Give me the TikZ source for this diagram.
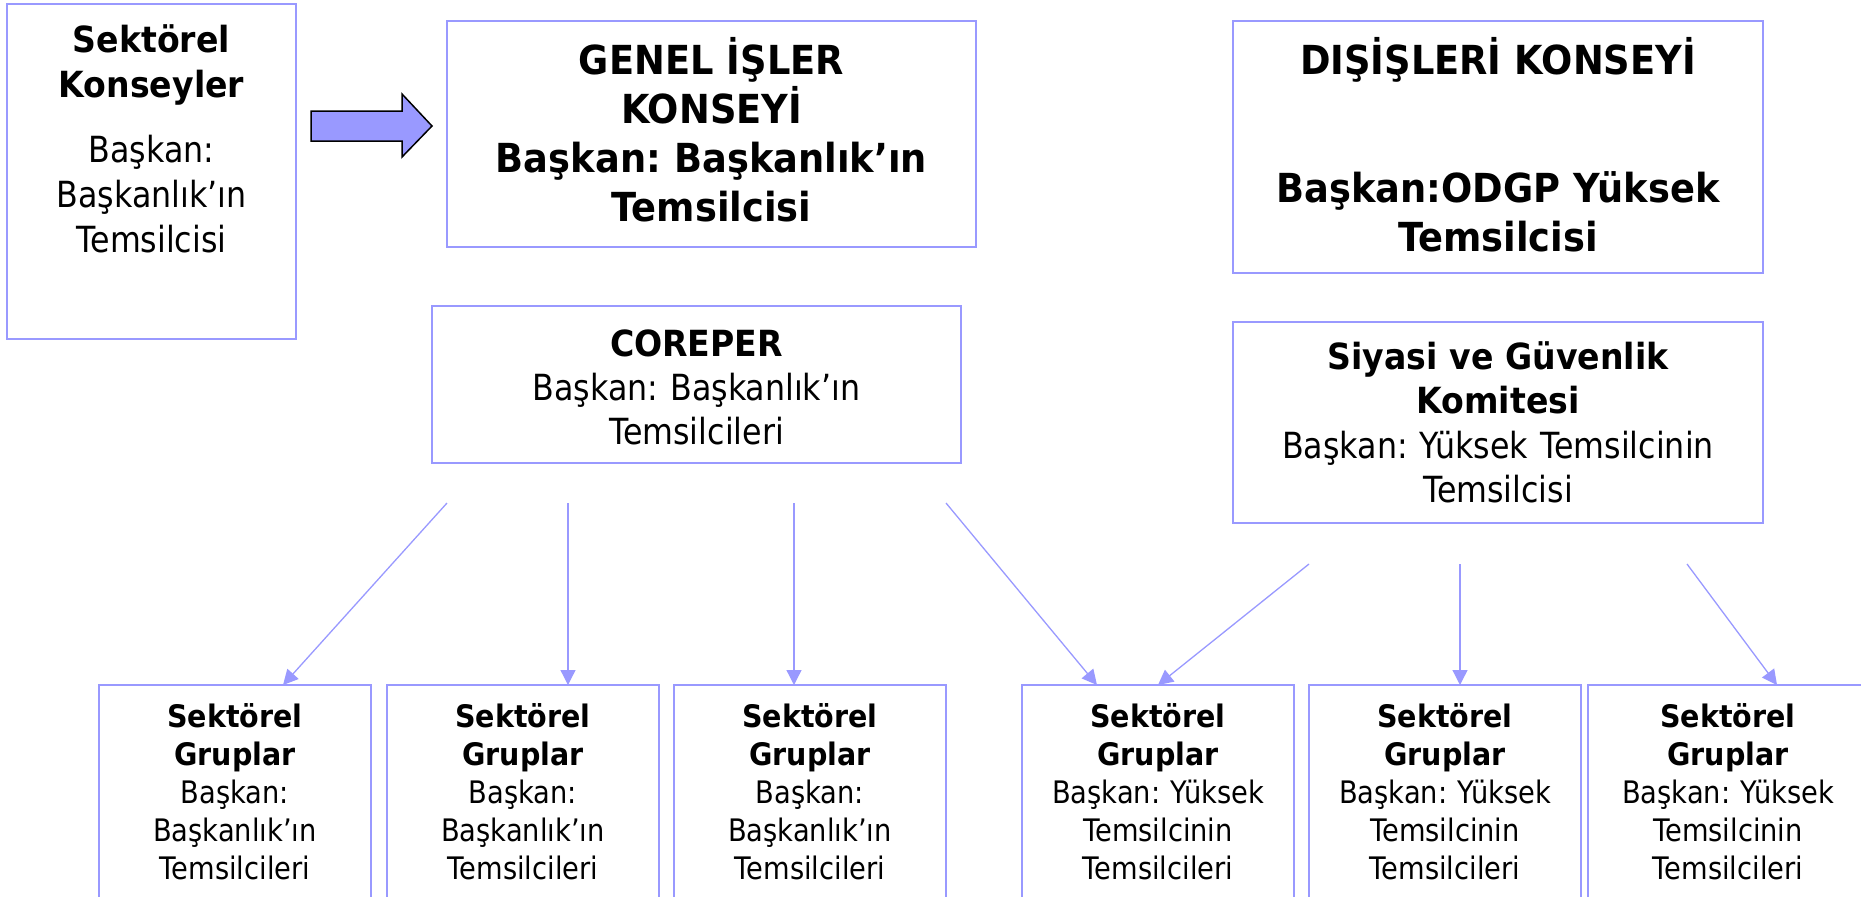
\documentclass[tikz,border=0pt]{standalone}
\usepackage{fontspec}
\setmainfont{DejaVu Sans}[FakeStretch=0.88]
\newfontfamily\headfont{DejaVu Sans}[FakeStretch=0.92]
\usetikzlibrary{arrows.meta,positioning}
\definecolor{euline}{RGB}{153,153,255}
\frenchspacing

\newcommand{\headtext}[1]{{\headfont\bfseries #1}}

\begin{document}
\begin{tikzpicture}[
    x=1pt, y=-1pt,
    council/.style={rectangle, draw=euline, line width=2.5pt, fill=white, align=center, inner sep=0pt, outer sep=0pt, text width=#1},
    group/.style={council=272pt, text height=42pt, text depth=188pt, font=\fontsize{31}{38}\selectfont},
    link/.style={euline, line width=1.3pt, -{Triangle[length=15pt,width=15pt]}}
]
\useasboundingbox (0,0) rectangle (1861,897);
\clip (0,0) rectangle (1861,897);

\node[council=289pt, anchor=north west, text height=48pt, text depth=287pt, font=\fontsize{36}{45}\selectfont] (sk) at (7,4)
  {\headtext{Sektörel\\Konseyler}\\[20pt]Başkan:\\Başkanlık’ın\\Temsilcisi};
\node[council=529pt, below right=17pt and 151pt of sk.north east, text height=53pt, text depth=173pt, font=\fontsize{40}{49.3}\selectfont] (genel)
  {\headtext{GENEL İŞLER\\KONSEYİ\\Başkan: Başkanlık’ın\\Temsilcisi}};
\node[council=530pt, right=257pt of genel.north east, anchor=north west, text height=53pt, text depth=199pt, font=\fontsize{40}{49}\selectfont] (dis)
  {\headtext{DIŞİŞLERİ KONSEYİ\\[79pt]Başkan:ODGP Yüksek\\Temsilcisi}};
\node[council=529pt, below=59pt of genel.south west, anchor=north west, xshift=-15pt, text height=50pt, text depth=107pt, font=\fontsize{36}{44}\selectfont] (coreper)
  {\headtext{COREPER}\\Başkan: Başkanlık’ın\\Temsilcileri};
\node[council=530pt, below=49pt of dis.south west, anchor=north west, text height=47pt, text depth=154pt, font=\fontsize{36}{44.5}\selectfont] (siyasi)
  {\headtext{Siyasi ve Güvenlik\\Komitesi}\\Başkan: Yüksek Temsilcinin\\Temsilcisi};

% block arrow
\filldraw[fill=euline, draw=black, line width=1.5pt] (311,111) -- (402,111) -- (402,94) -- (432,126) -- (402,157) -- (402,141) -- (311,141) -- cycle;

\node[group, anchor=north west] (g1) at (99,685) {\headtext{Sektörel\\Gruplar}\\Başkan:\\Başkanlık’ın\\Temsilcileri};
\node[group, right=16pt of g1] (g2) {\headtext{Sektörel\\Gruplar}\\Başkan:\\Başkanlık’ın\\Temsilcileri};
\node[group, right=15pt of g2] (g3) {\headtext{Sektörel\\Gruplar}\\Başkan:\\Başkanlık’ın\\Temsilcileri};
\node[group, right=76pt of g3] (g4) {\headtext{Sektörel\\Gruplar}\\Başkan: Yüksek\\Temsilcinin\\Temsilcileri};
\node[group, right=15pt of g4] (g5) {\headtext{Sektörel\\Gruplar}\\Başkan: Yüksek\\Temsilcinin\\Temsilcileri};
\node[group, right=7pt of g5, text width=280pt] (g6) {\headtext{Sektörel\\Gruplar}\\Başkan: Yüksek\\Temsilcinin\\Temsilcileri};

\coordinate (s1) at ([xshift=15pt,yshift=-40pt]coreper.south west);
\coordinate (s2) at ([xshift=136pt,yshift=-40pt]coreper.south west);
\coordinate (s3) at ([xshift=362pt,yshift=-40pt]coreper.south west);
\coordinate (s4) at ([xshift=514pt,yshift=-40pt]coreper.south west);
\coordinate (s5) at ([xshift=76pt,yshift=-41pt]siyasi.south west);
\coordinate (s6) at ([xshift=227pt,yshift=-41pt]siyasi.south west);
\coordinate (s7) at ([xshift=454pt,yshift=-41pt]siyasi.south west);

\draw[link] (s1) -- ([xshift=48pt]g1.north);
\draw[link] (s2) -- ([xshift=45pt]g2.north);
\draw[link] (s3) -- ([xshift=-16pt]g3.north);
\draw[link] (s4) -- ([xshift=-61pt]g4.north);
\draw[link] (s5) -- (g4.north);
\draw[link] (s6) -- ([xshift=15pt]g5.north);
\draw[link] (s7) -- ([xshift=49pt]g6.north);

\end{tikzpicture}
\end{document}
